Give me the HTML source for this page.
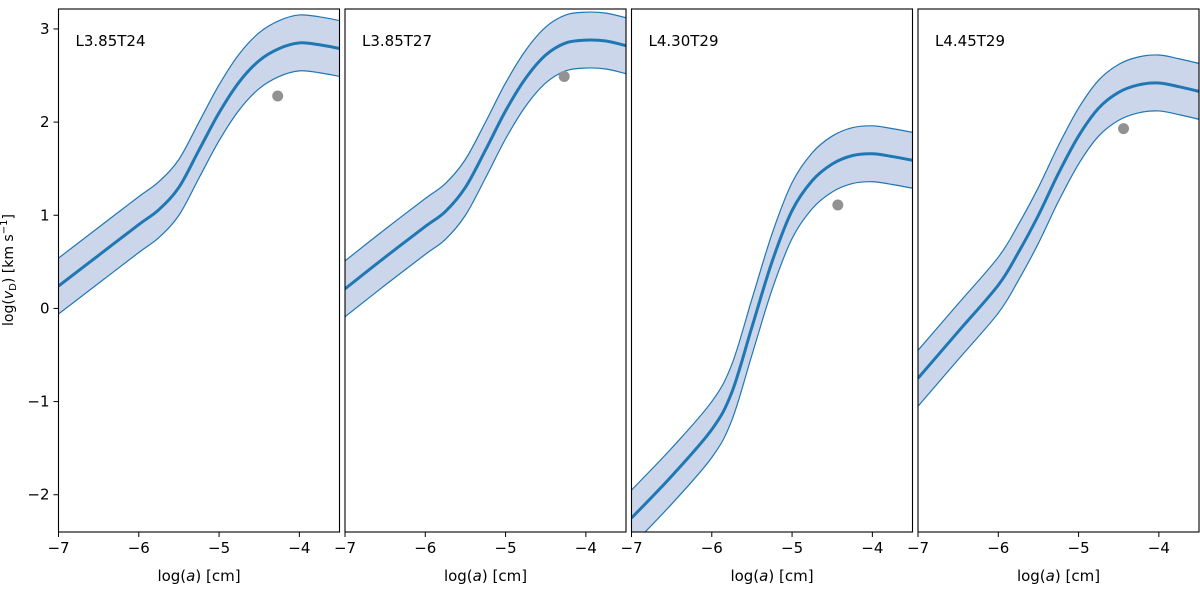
<!DOCTYPE html>
<html><head><meta charset="utf-8"><style>
body{margin:0;background:#fff;}
svg text{font-family:"DejaVu Sans","Liberation Sans",sans-serif;fill:#000;}
</style></head><body>
<svg id="chart" width="1200" height="586" xmlns="http://www.w3.org/2000/svg"></svg>
<script>
const panelNames = ["L3.85T24","L3.85T27","L4.30T29","L4.45T29"];
const xValues = [-7,-6.5,-6,-5.75,-5.5,-5.25,-5,-4.75,-4.5,-4.25,-4,-3.75,-3.5];
const series1 = [0.24,0.57,0.9,1.06,1.3,1.7,2.1,2.43,2.66,2.79,2.85,2.83,2.79];
const series2 = [0.21,0.55,0.88,1.04,1.3,1.7,2.12,2.47,2.72,2.85,2.88,2.87,2.82];
const series3 = [-2.25,-1.8,-1.3,-0.9,-0.2,0.5,1.05,1.37,1.55,1.64,1.66,1.63,1.59];
const series4 = [-0.75,-0.25,0.25,0.6,1.0,1.45,1.85,2.15,2.32,2.4,2.42,2.38,2.33];
const seriesAll = [series1,series2,series3,series4];
const bandHalfWidth = 0.3;
const dotX = [-4.27,-4.27,-4.43,-4.44];
const dotY = [2.28,2.49,1.11,1.93];
const xTicks = [-7,-6,-5,-4];
const yTicks = [-2,-1,0,1,2,3];

const NS="http://www.w3.org/2000/svg";
const svg=document.getElementById('chart');
const panelLeft=[58.5,345,631.5,918], panelW=281, topY=9, bottomY=532;
const xMin=-7,xMax=-3.5,yMin=-2.4,yMax=3.214;
function mk(tag,attrs,parent){const e=document.createElementNS(NS,tag);for(const k in attrs)e.setAttribute(k,attrs[k]);(parent||svg).appendChild(e);return e;}
function path(pts){let d="M"+pts[0][0]+","+pts[0][1];for(let i=0;i<pts.length-1;i++){const p0=pts[i-1]||pts[i],p1=pts[i],p2=pts[i+1],p3=pts[i+2]||p2;
d+=" C"+(p1[0]+(p2[0]-p0[0])/6)+","+(p1[1]+(p2[1]-p0[1])/6)+" "+(p2[0]-(p3[0]-p1[0])/6)+","+(p2[1]-(p3[1]-p1[1])/6)+" "+p2[0]+","+p2[1];}return d;}
const defs=mk('defs',{});
panelNames.forEach((name,p)=>{
  const L=panelLeft[p];
  const sx=v=>L+(v-xMin)/(xMax-xMin)*panelW;
  const sy=v=>bottomY-(v-yMin)/(yMax-yMin)*(bottomY-topY);
  const cp=mk('clipPath',{id:'c'+p},defs);mk('rect',{x:L,y:topY,width:panelW,height:bottomY-topY},cp);
  const g=mk('g',{});
  
  
  const s=seriesAll[p];
  const up=xValues.map((x,i)=>[sx(x),sy(s[i]+bandHalfWidth)]);
  const lo=xValues.map((x,i)=>[sx(x),sy(s[i]-bandHalfWidth)]);
  const mid=xValues.map((x,i)=>[sx(x),sy(s[i])]);
  const loRev=lo.slice().reverse();
  const band=mk('path',{d:path(up)+" L"+path(loRev).slice(1)+" Z",fill:'#cbd6ea','clip-path':'url(#c'+p+')'},g);
  
  
  const ub=mk('path',{d:path(up),fill:'none',stroke:'#1f77b4','stroke-width':1.2,'clip-path':'url(#c'+p+')'},g);
  
  
  const lb=mk('path',{d:path(lo),fill:'none',stroke:'#1f77b4','stroke-width':1.2,'clip-path':'url(#c'+p+')'},g);
  
  
  const ml=mk('path',{d:path(mid),fill:'none',stroke:'#1f77b4','stroke-width':3,'clip-path':'url(#c'+p+')'},g);
  
  
  const dot=mk('circle',{cx:sx(dotX[p]),cy:sy(dotY[p]),r:5.5,fill:'#929292'},g);
  
  
  const fr=mk('rect',{x:L,y:topY,width:panelW,height:bottomY-topY,fill:'none',stroke:'#000','stroke-width':1.1},g);
  
  
  const t=mk('text',{x:L+17,y:46,'font-size':15},g);t.textContent=name;
  
  
  xTicks.forEach(v=>{const x=sx(v);mk('line',{x1:x,x2:x,y1:bottomY,y2:bottomY+5,stroke:'#000'},g);
    const tl=mk('text',{x:x,y:bottomY+21,'font-size':15,'text-anchor':'middle'},g);tl.textContent='\u2212'+Math.abs(v);
    
    });
  const xl=mk('text',{x:L+panelW/2,y:581,'font-size':15,'text-anchor':'middle'},g);
  xl.innerHTML='log(<tspan font-style="italic">a</tspan>) [cm]';
  
  
  if(p===0){yTicks.forEach(v=>{const y=sy(v);mk('line',{x1:L-5,x2:L,y1:y,y2:y,stroke:'#000'},g);
    const yl=mk('text',{x:L-9,y:y+5,'font-size':15,'text-anchor':'end'},g);yl.textContent=(v<0?'\u2212':'')+Math.abs(v);
    
    });
    const yt=mk('text',{x:0,y:0,'font-size':14,'text-anchor':'middle',transform:'translate(13,270) rotate(-90)'},g);
    yt.innerHTML='log(<tspan font-style="italic">v</tspan><tspan font-size="10" dy="3">D</tspan><tspan dy="-3">) [km s</tspan><tspan font-size="10" dy="-6">\u22121</tspan><tspan dy="6">]</tspan>';
    
    }
});
</script>
</body></html>
